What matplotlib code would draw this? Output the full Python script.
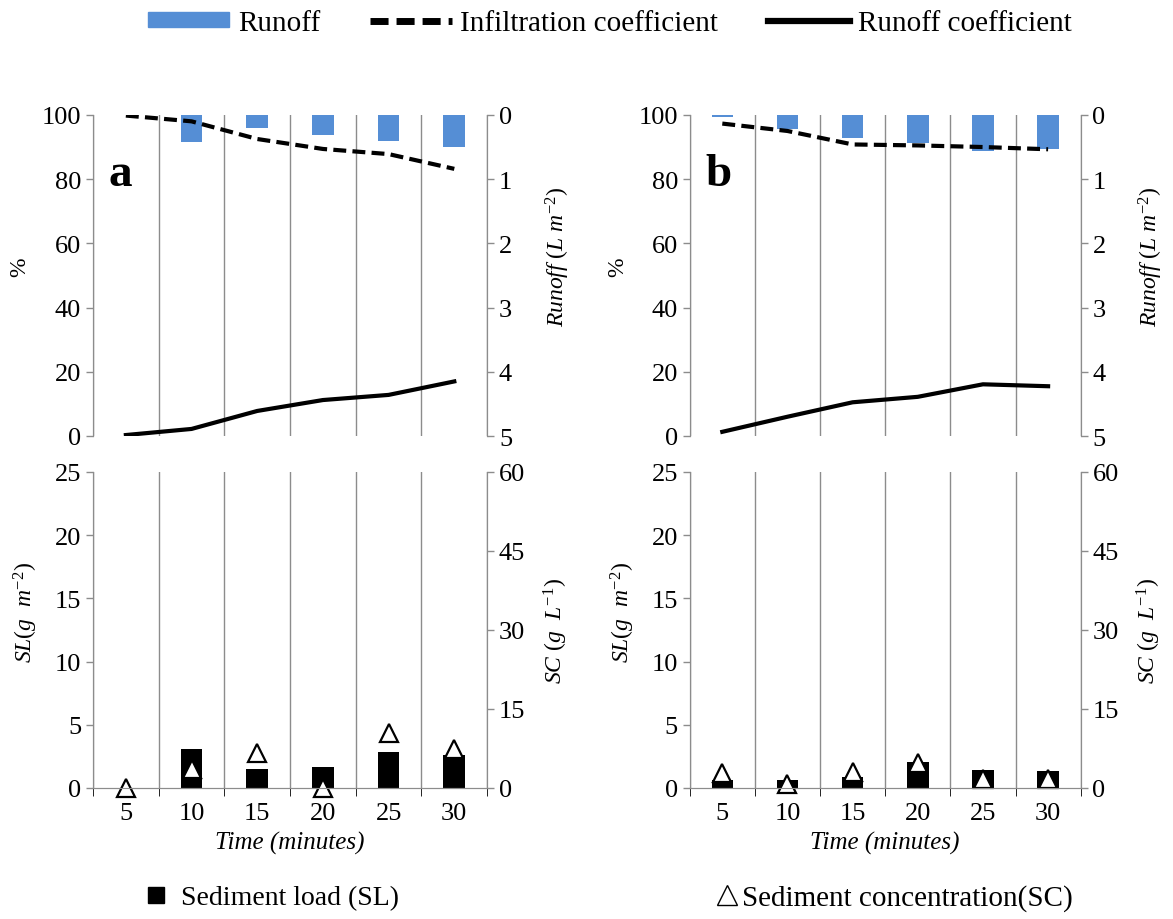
import matplotlib
matplotlib.use("Agg")
import matplotlib.pyplot as plt
from matplotlib.lines import Line2D
from matplotlib.patches import Patch
import numpy as np

plt.rcParams['font.family'] = ['Liberation Serif', 'DejaVu Sans']
plt.rcParams['mathtext.fontset'] = 'custom'
plt.rcParams['mathtext.rm'] = 'Liberation Serif'
plt.rcParams['mathtext.it'] = 'Liberation Serif:italic'

# data
times = ['5', '10', '15', '20', '25', '30']

runoff_a = [0.0, 0.42, 0.20, 0.31, 0.41, 0.50]
infil_a = [99.8, 98.0, 92.5, 89.4, 87.8, 83.2]
rcoef_a = [0.3, 2.2, 7.8, 11.2, 12.8, 17.0]
sl_a = [0.0, 3.1, 1.48, 1.64, 2.82, 2.6]
sc_a = [0.0, 3.6, 6.6, 0.0, 10.4, 7.4]

runoff_b = [0.04, 0.22, 0.36, 0.44, 0.56, 0.53]
infil_b = [97.3, 95.0, 90.8, 90.5, 90.0, 89.3]
rcoef_b = [1.3, 6.0, 10.5, 12.2, 16.1, 15.5]
sl_b = [0.63, 0.63, 0.85, 2.09, 1.42, 1.37]
sc_b = [2.8, 0.7, 3.0, 4.8, 1.8, 1.65]

grey = '#8c8c8c'
blue = '#558ed5'
x = np.arange(len(times))

fig = plt.figure(figsize=(11.73, 9.2), dpi=100)


def style_axis(ax):
    for s in ax.spines.values():
        s.set_color(grey)
    ax.tick_params(colors=grey, labelcolor='black', labelsize=19, width=1, length=5)
    ax.set_xlim(-0.5, 5.5)
    ax.set_xticks(np.arange(-0.5, 6, 1), minor=True)
    ax.grid(True, axis='x', which='minor', color=grey, lw=1)
    ax.grid(False, axis='x', which='major')


def top_panel(left, width, runoff, infil, rcoef, letter):
    ax = fig.add_axes([left, 0.525, width, 0.349])
    ax2 = ax.twinx()
    style_axis(ax)
    style_axis(ax2)
    for a in (ax, ax2):
        a.spines['top'].set_visible(False)
        a.spines['bottom'].set_visible(False)
        a.tick_params(axis='x', which='both', length=0)
    ax.set_xticks(x)
    ax.set_xticklabels([])
    ax2.grid(False, which='both')

    ax2.bar(x, runoff, width=0.33, color=blue)
    ax2.set_ylim(5, 0)
    ax2.set_yticks([0, 1, 2, 3, 4, 5])
    ax2.set_ylabel(r'$Runoff\ (L\ m^{-2})$', fontsize=17, va='center')
    ax2.yaxis.set_label_coords(1.18, 0.56)

    ax.plot(x, infil, color='black', lw=3, ls=(0, (3.1, 1.5)))
    ax.plot(x, rcoef, color='black', lw=3)
    ax.set_ylim(0, 100)
    ax.set_yticks(range(0, 101, 20))
    ax.set_ylabel('%', fontsize=17, va='center')
    ax.yaxis.set_label_coords(-0.185, 0.53)
    ax.set_zorder(ax2.get_zorder() + 1)
    ax.patch.set_visible(False)
    ax.text(0.04, 0.815, letter, transform=ax.transAxes, fontsize=34,
            fontweight='bold', ha='left', va='center')


def bottom_panel(left, width, sl, sc):
    ax = fig.add_axes([left, 0.1424, width, 0.3435])
    ax2 = ax.twinx()
    style_axis(ax)
    style_axis(ax2)
    ax.spines['top'].set_visible(False)
    ax2.spines['top'].set_visible(False)
    ax2.grid(False, which='both')
    ax.set_xticks(x)
    ax.set_xticklabels(times)
    ax.tick_params(axis='x', which='major', length=0, pad=10)
    ax.tick_params(axis='x', which='minor', length=6)

    ax.bar(x, sl, width=0.33, color='black')
    ax.set_ylim(0, 25)
    ax.set_yticks(range(0, 26, 5))
    ax.set_ylabel(r'$SL(g\ \ m^{-2})$', fontsize=17, va='center')
    ax.yaxis.set_label_coords(-0.17, 0.557)
    ax.set_xlabel('Time (minutes)', fontsize=18, style='italic', va='center')
    ax.xaxis.set_label_coords(0.5, -0.171)

    ax2.plot(x, sc, ls='none', marker='^', ms=13, mfc='white', mec='black',
             mew=1.6, clip_on=False)
    ax2.set_ylim(0, 60)
    ax2.set_yticks(range(0, 61, 15))
    ax2.set_ylabel(r'$SC\ (g\ \ L^{-1})$', fontsize=17, va='center')
    ax2.yaxis.set_label_coords(1.175, 0.5)


top_panel(0.0793, 0.336, runoff_a, infil_a, rcoef_a, 'a')
top_panel(0.588, 0.3333, runoff_b, infil_b, rcoef_b, 'b')
bottom_panel(0.0793, 0.336, sl_a, sc_a)
bottom_panel(0.588, 0.3333, sl_b, sc_b)

handles = [Patch(color=blue),
           Line2D([], [], color='black', lw=5, ls=(0, (2.6, 1.15))),
           Line2D([], [], color='black', lw=4.5)]
fig.legend(handles, ['Runoff', 'Infiltration coefficient', 'Runoff coefficient'],
           loc='center', bbox_to_anchor=(0.52, 0.974), ncol=3, frameon=False,
           fontsize=21, handlelength=2.8, handleheight=0.42, columnspacing=1.7,
           handletextpad=0.3, borderpad=0)

fig.legend([Line2D([], [], ls='none', marker='s', ms=11, color='black')],
           ['Sediment load (SL)'], loc='center', bbox_to_anchor=(0.232, 0.023),
           frameon=False, fontsize=20, handlelength=0.8, handletextpad=0.5, borderpad=0)
fig.legend([Line2D([], [], ls='none', marker='^', ms=15, mfc='white', mec='black', mew=1.0)],
           ['Sediment concentration(SC)'], loc='center', bbox_to_anchor=(0.762, 0.023),
           frameon=False, fontsize=21, handlelength=0.8, handletextpad=0.1, borderpad=0)

fig.savefig('out.png', dpi=100)
